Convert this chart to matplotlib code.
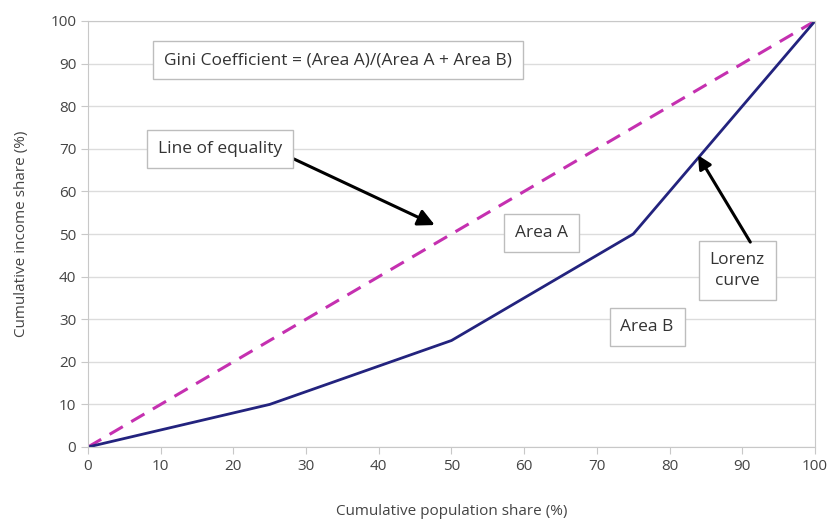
import matplotlib.pyplot as plt

plt.rcParams['font.family'] = ['Open Sans', 'DejaVu Sans']

pop_share = [0, 25, 50, 75, 100]
income_share = [0, 10, 25, 50, 100]
equality = [0, 100]
xticks = list(range(0, 101, 10))
yticks = list(range(0, 101, 10))

fig = plt.figure(figsize=(8.29, 5.19), dpi=100)
ax = fig.add_axes([88/829, 72/519, (815-88)/829, (447-21)/519])

ax.plot(equality, equality, color='#c530b0', lw=2.2, dashes=(5, 3.2))
ax.plot(pop_share, income_share, color='#23237e', lw=2.0)

ax.set_xlim(0, 100)
ax.set_ylim(0, 100)
ax.set_xticks(xticks)
ax.set_yticks(yticks)
ax.grid(axis='y', color='#dcdcdc', lw=1)
ax.set_axisbelow(True)
for s in ax.spines.values():
    s.set_color('#c8c8c8')
ax.tick_params(colors='#c8c8c8', labelcolor='#444444', labelsize=11, length=5)
ax.set_xlabel('Cumulative population share (%)', fontsize=11, color='#444444', labelpad=22)
ax.set_ylabel('Cumulative income share (%)', fontsize=11, color='#444444', labelpad=15)

box = dict(boxstyle='square,pad=0.62', fc='white', ec='#bdbdbd', lw=1)
txt = dict(fontsize=12.5, color='#333333', ha='center', va='center', bbox=box)
ax.text(34.4, 90.8, 'Gini Coefficient = (Area A)/(Area A + Area B)', **txt)
ax.text(62.4, 50.2, 'Area A', **txt)
ax.text(76.9, 28.2, 'Area B', **txt)
ax.text(89.3, 41.5, 'Lorenz\ncurve', linespacing=1.45, **txt)

arrow = dict(arrowstyle='-|>,head_length=0.8,head_width=0.4', color='black', lw=2.2, shrinkA=0, shrinkB=0)
ax.annotate('Line of equality', xy=(47.7, 52.1), xytext=(18.2, 70.0),
            arrowprops=dict(arrow, relpos=(1.0, 0.2)), **txt)
ax.annotate('', xy=(83.9, 68.5), xytext=(91.1, 48.1), arrowprops=arrow)

fig.savefig('out.png', dpi=100)
